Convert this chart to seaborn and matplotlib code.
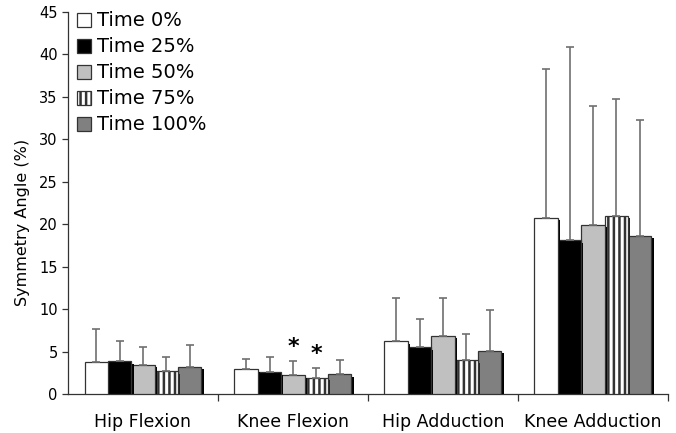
import numpy as np
import pandas as pd
import seaborn as sns
import matplotlib
matplotlib.use("Agg")
import matplotlib.pyplot as plt
import matplotlib.patheffects as pe
from matplotlib.patches import Patch

# data (mean and +SD per time point)
categories = ["Hip Flexion", "Knee Flexion", "Hip Adduction", "Knee Adduction"]
times = ["Time 0%", "Time 25%", "Time 50%", "Time 75%", "Time 100%"]
mean_t0 = [3.8, 2.9, 6.2, 20.7]
mean_t25 = [3.85, 2.55, 5.5, 18.1]
mean_t50 = [3.45, 2.2, 6.8, 19.9]
mean_t75 = [2.65, 1.9, 3.95, 21.0]
mean_t100 = [3.2, 2.3, 5.1, 18.6]
sd_t0 = [3.8, 1.2, 5.1, 17.6]
sd_t25 = [2.45, 1.85, 3.3, 22.8]
sd_t50 = [2.05, 1.7, 4.5, 14.0]
sd_t75 = [1.65, 1.2, 3.15, 13.8]
sd_t100 = [2.6, 1.7, 4.8, 13.7]
# significance markers: (category, time)
sig = [("Knee Flexion", "Time 50%"), ("Knee Flexion", "Time 75%")]

means = [mean_t0, mean_t25, mean_t50, mean_t75, mean_t100]
sds = [sd_t0, sd_t25, sd_t50, sd_t75, sd_t100]
rows = []
for t, m, s in zip(times, means, sds):
    for c, mv, sv in zip(categories, m, s):
        rows.append({"category": c, "time": t, "value": mv, "sd": sv})
df = pd.DataFrame(rows)

colors = ["white", "black", "#c0c0c0", "white", "#808080"]

sns.set_style("ticks")
plt.rcParams["font.family"] = ["DejaVu Sans"]
plt.rcParams["hatch.linewidth"] = 1.8
plt.rcParams["hatch.color"] = "black"
plt.rcParams["text.color"] = "black"
plt.rcParams["axes.labelcolor"] = "black"
plt.rcParams["xtick.labelcolor"] = "black"
plt.rcParams["ytick.labelcolor"] = "black"

fig = plt.figure(figsize=(6.76, 4.33), dpi=100)
ax = fig.add_axes([0.1006, 0.0901, 0.8874, 0.8823])

sns.barplot(data=df, x="category", y="value", hue="time", order=categories,
            hue_order=times, palette=colors, width=0.78, errorbar=None,
            edgecolor="#333333", linewidth=0.9, legend=False, ax=ax)

shadow = [pe.SimplePatchShadow(offset=(1.6, -1.6), shadow_rgbFace="black", alpha=1.0),
          pe.Normal()]
bar_conts = list(ax.containers)
for i, cont in enumerate(bar_conts):
    for bar in cont.patches:
        bar.set_path_effects(shadow)
        bar.set_zorder(10 - i)
        if times[i] == "Time 75%":
            bar.set_hatch("|||")
    xs = [b.get_x() + b.get_width() / 2 for b in cont.patches]
    ys = [b.get_height() for b in cont.patches]
    ax.errorbar(xs, ys, yerr=[np.zeros(len(ys)), sds[i]], fmt="none",
                ecolor="#707070", elinewidth=1.2, capsize=2.6, capthick=1.2,
                zorder=20)

for c, t in sig:
    ci = categories.index(c)
    ti = times.index(t)
    bar = bar_conts[ti].patches[ci]
    top = means[ti][ci] + sds[ti][ci]
    ax.text(bar.get_x() + bar.get_width() / 2, top + 1.6, "*",
            ha="center", va="center", fontsize=16, fontweight="bold", zorder=25)

ax.set_ylim(0, 45)
ax.set_xlim(-0.5, 3.5)
ax.set_yticks(range(0, 46, 5))
ax.set_xticks(range(len(categories)))
ax.set_xticklabels(categories, fontsize=12.5)
ax.set_xticks([0.5, 1.5, 2.5, 3.5], minor=True)
ax.tick_params(axis="x", which="major", length=0, pad=14)
ax.tick_params(axis="x", which="minor", length=5, width=0.9, color="#333333")
ax.tick_params(axis="y", length=4, width=0.9, color="#333333", labelsize=10.5)
ax.set_xlabel("")
ax.set_ylabel("Symmetry Angle (%)", fontsize=11.5)
ax.yaxis.set_label_coords(-0.063, 0.45)
for s in ["left", "bottom"]:
    ax.spines[s].set_color("#333333")
    ax.spines[s].set_linewidth(0.9)
sns.despine(ax=ax)

handles = []
for t, col in zip(times, colors):
    h = Patch(facecolor=col, edgecolor="#333333", linewidth=0.9,
              hatch="|||" if t == "Time 75%" else None)
    handles.append(h)
ax.legend(handles, times, loc="upper left", bbox_to_anchor=(0.015, 1.0015),
          frameon=False, fontsize=14, handlelength=0.72, handleheight=0.72,
          handletextpad=0.3, labelspacing=0.36, borderaxespad=0, borderpad=0)

fig.savefig("out.png", dpi=100)
